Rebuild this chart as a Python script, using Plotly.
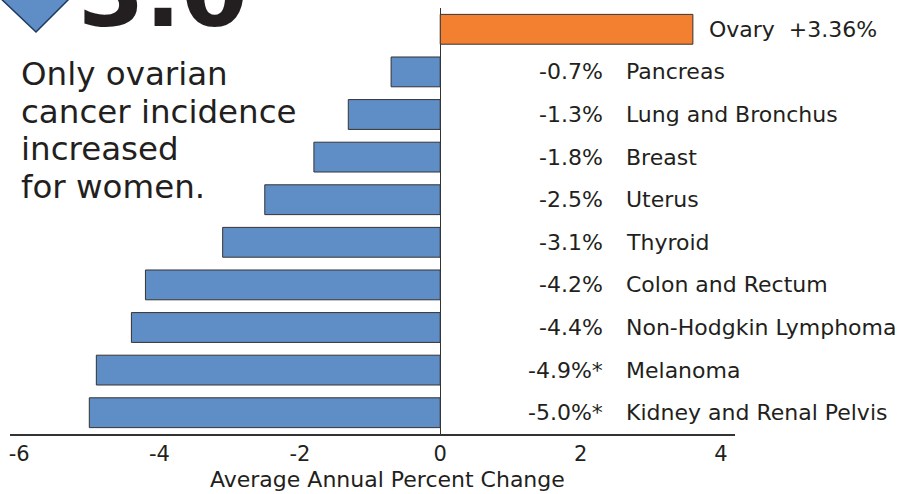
import plotly.graph_objects as go

cancers = ["Ovary", "Pancreas", "Lung and Bronchus", "Breast", "Uterus", "Thyroid",
           "Colon and Rectum", "Non-Hodgkin Lymphoma", "Melanoma", "Kidney and Renal Pelvis"]
bar_values = [3.6, -0.7, -1.31, -1.8, -2.5, -3.1, -4.2, -4.4, -4.9, -5.0]
value_labels = ["+3.36%", "-0.7%", "-1.3%", "-1.8%", "-2.5%", "-3.1%", "-4.2%", "-4.4%", "-4.9%*", "-5.0%*"]
tick_vals = [-6, -4, -2, 0, 2, 4]
tick_text = ["-6", "-4", "-2", "0", "2", "4"]
headline = "3.0"
note_lines = ["Only ovarian", "cancer incidence", "increased", "for women."]
x_title = "Average Annual Percent Change"

BLUE = "#5f8dc6"
ORANGE = "#f28030"
FONT = "DejaVu Sans"
TXT = "#231f20"

W, H = 922, 494
L, R, T, B = 10, 187, 8, 60
PW, PH = W - L - R, H - T - B


def px(p):
    return (p - L) / PW


def py(p):
    return 1 - (p - T) / PH


colors = [ORANGE if v > 0 else BLUE for v in bar_values]

fig = go.Figure()
fig.add_trace(go.Bar(
    x=bar_values, y=cancers, orientation="h",
    marker=dict(color=colors, line=dict(color="#333333", width=1)),
    width=0.7, hoverinfo="skip",
))

lab_font = dict(family=FONT, size=22, color=TXT)
annotations = []
for name, lab, v in zip(cancers, value_labels, bar_values):
    if v > 0:
        annotations.append(dict(x=3.8, y=name, xref="x", yref="y", text=f"{name}  {lab}",
                                xanchor="left", yanchor="middle", showarrow=False, font=lab_font))
    else:
        annotations.append(dict(x=2.35, y=name, xref="x", yref="y", text=lab,
                                xanchor="right", yanchor="middle", showarrow=False, font=lab_font))
        annotations.append(dict(x=2.62, y=name, xref="x", yref="y", text=name,
                                xanchor="left", yanchor="middle", showarrow=False, font=lab_font))

annotations.append(dict(x=px(388), y=py(479), xref="paper", yref="paper",
                        text=x_title, xanchor="center", yanchor="middle",
                        showarrow=False, font=dict(family=FONT, size=22, color=TXT)))

for i, line in enumerate(note_lines):
    annotations.append(dict(x=px(19), y=py(74 + 37.5 * i), xref="paper", yref="paper",
                            text=line, xanchor="left", yanchor="middle", align="left",
                            showarrow=False, font=dict(family=FONT, size=32.5, color=TXT)))

annotations.append(dict(x=px(76), y=py(51), xref="paper", yref="paper",
                        text=f"<b>{headline}</b>", xanchor="left", yanchor="bottom",
                        showarrow=False, font=dict(family=FONT, size=96, color=TXT)))

fig.update_layout(
    width=W, height=H,
    margin=dict(l=L, r=R, t=T, b=B, autoexpand=False),
    paper_bgcolor="white", plot_bgcolor="white",
    showlegend=False,
    annotations=annotations,
    xaxis=dict(range=[-6.13, 4.2], tickvals=tick_vals, ticktext=tick_text, showgrid=False,
               zeroline=True, zerolinecolor="#333333", zerolinewidth=1,
               showline=True, linecolor="#333333", linewidth=1.5, ticks="", automargin=False,
               tickfont=dict(family=FONT, size=21, color=TXT), fixedrange=True),
    yaxis=dict(autorange=False, range=[9.5, -0.5], showticklabels=False, showgrid=False,
               zeroline=False, showline=False, fixedrange=True, automargin=False),
    shapes=[dict(type="path", xref="paper", yref="paper",
                 path="M %f %f L %f %f L %f %f Z" % (px(-4), py(-6), px(74), py(-6), px(36), py(32)),
                 fillcolor=BLUE, line=dict(color="#1f3a5f", width=1.5))],
)

fig.write_html("out.html", config={"displayModeBar": False, "staticPlot": True},
               post_script="document.body.style.margin='0px';")
